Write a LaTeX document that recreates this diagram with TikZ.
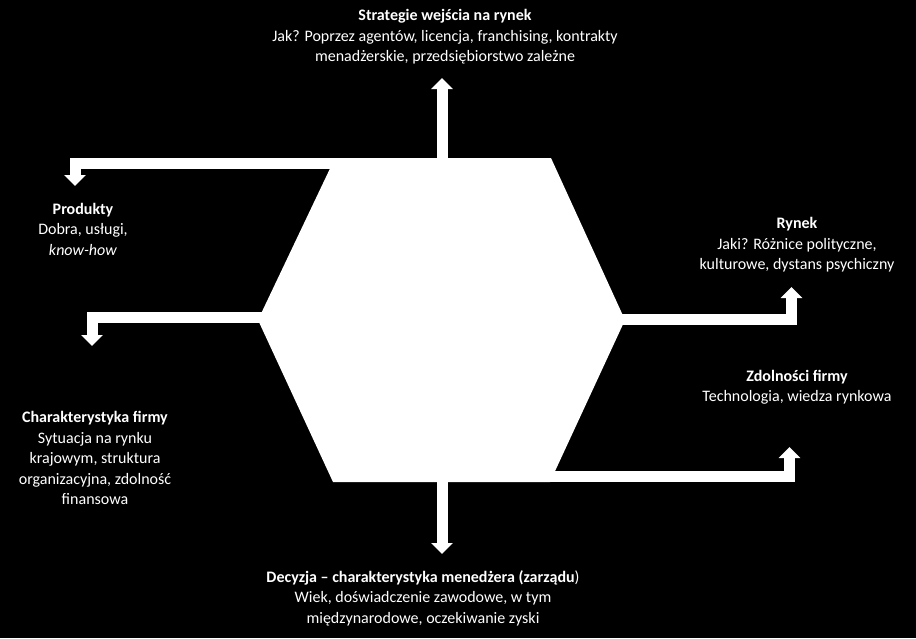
\documentclass[tikz,border=0pt]{standalone}
\usepackage{fontspec}
\setmainfont{Carlito}
\usetikzlibrary{arrows.meta}
\begin{document}
\begin{tikzpicture}[x=1pt,y=-1pt,
  lbl/.style={text=white,align=center,inner sep=0pt,font=\fontsize{16}{20.5}\selectfont},
  flow/.style={draw=white,line width=11pt,line join=miter,-{Triangle[length=11pt,width=21pt]}}]
\fill[black] (0,0) rectangle (916,638);
\useasboundingbox (0,0) rectangle (916,638);
% hexagon
\coordinate (hTL) at (335,158);
\coordinate (hTR) at (551,158);
\coordinate (hR) at (625,320);
\coordinate (hBR) at (550,482);
\coordinate (hBL) at (333,482);
\coordinate (hL) at (258,320);
\fill[white] (hTL) -- (hTR) -- (hR) -- (hBR) -- (hBL) -- (hL) -- cycle;
% labels
\node[lbl] (strat) at (445,37) {\textbf{Strategie wejścia na rynek}\\Jak? Poprzez agentów, licencja, franchising, kontrakty\\menadżerskie, przedsiębiorstwo zależne};
\node[lbl] (prod) at (83,229) {\textbf{Produkty}\\Dobra, usługi,\\\textit{know-how}};
\node[lbl] (chark) at (95,458) {\textbf{Charakterystyka firmy}\\Sytuacja na rynku\\krajowym, struktura\\organizacyjna, zdolność\\finansowa};
\node[lbl] (rynek) at (797,245) {\textbf{Rynek}\\Jaki? Różnice polityczne,\\kulturowe, dystans psychiczny};
\node[lbl] (zdol) at (797,387) {\textbf{Zdolności firmy}\\Technologia, wiedza rynkowa};
\node[lbl] (dec) at (423,598) {\textbf{Decyzja – charakterystyka menedżera (zarządu}){}\\Wiek, doświadczenie zawodowe, w tym\\międzynarodowe, oczekiwanie zyski};
% arrow anchor points
\coordinate (sUp) at (442,158);
\coordinate (tUp) at (442,78);
\coordinate (sProd) at (420,163.5);
\coordinate (tProd) at (75,186);
\coordinate (sChar) at (300,317);
\coordinate (tChar) at (92,346);
\coordinate (sRyn) at (600,319);
\coordinate (tRyn) at (791.5,287);
\coordinate (sZdol) at (500,476);
\coordinate (tZdol) at (789.5,447);
\coordinate (sDown) at (442,482);
\coordinate (tDown) at (442,554);
% arrows
\draw[flow] (sUp) -- (tUp);
\draw[flow] (sProd) -| (tProd);
\draw[flow] (sChar) -| (tChar);
\draw[flow] (sRyn) -| (tRyn);
\draw[flow] (sZdol) -| (tZdol);
\draw[flow] (sDown) -- (tDown);
\end{tikzpicture}
\end{document}
